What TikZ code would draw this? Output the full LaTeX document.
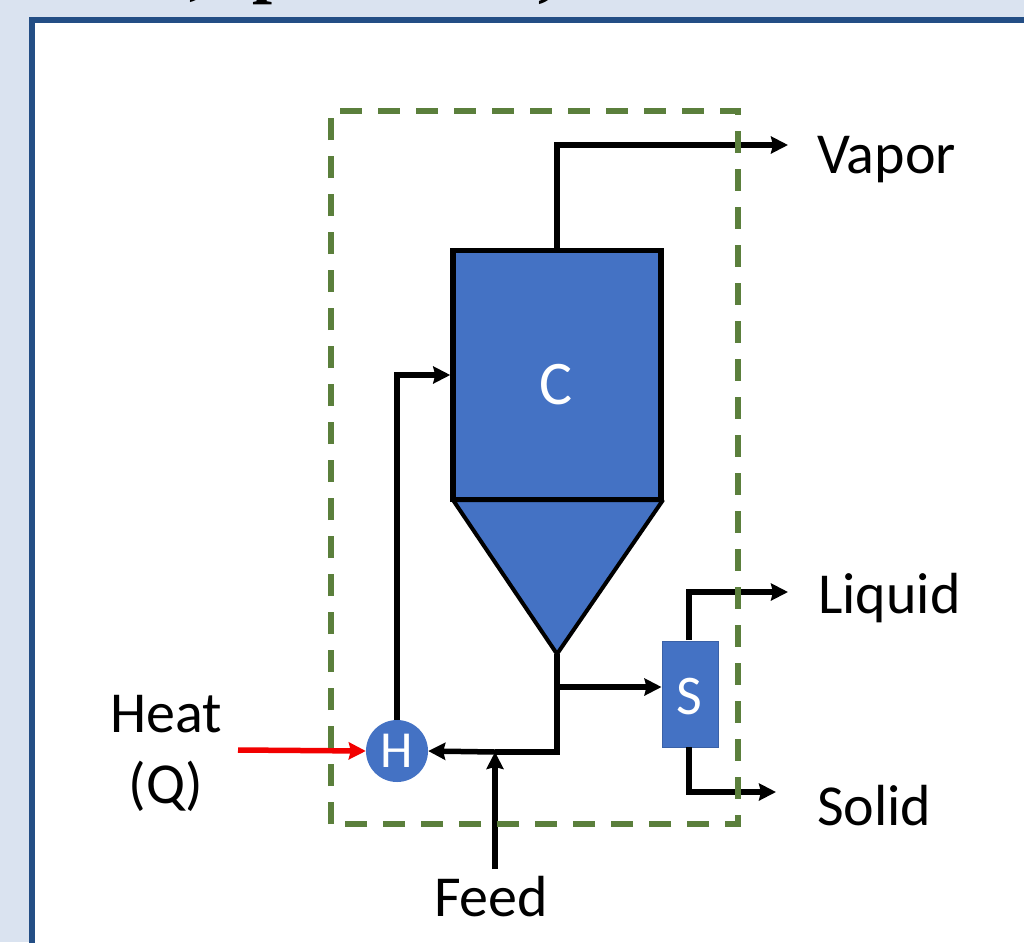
\documentclass[tikz,border=0pt]{standalone}
\usepackage{fontspec}
\setmainfont{Carlito}
\newfontfamily\titlefont{Liberation Serif}
\usetikzlibrary{positioning,arrows.meta}
\definecolor{panelblue}{HTML}{DAE3F0}
\definecolor{framedark}{HTML}{234E85}
\definecolor{unitblue}{HTML}{4472C4}
\definecolor{boundgreen}{HTML}{5B7F3C}
\tikzset{
  x=1pt, y=-1pt,
  >={Stealth[length=17pt,width=17pt,inset=2pt]},
  stream/.style={draw=black, line width=5.5pt, ->},
  unit/.style={fill=unitblue, text=white, font=\fontsize{52}{52}\selectfont, inner sep=0pt},
  unitlabel/.style={text=white, inner sep=0pt},
  streamlabel/.style={text=black, font=\fontsize{58}{71}\selectfont, inner sep=0pt},
  cuttext/.style={font=\titlefont\bfseries\fontsize{72}{72}\selectfont, inner sep=0pt, anchor=base},
  boundary/.style={draw=boundgreen, line width=5.5pt, dash pattern=on 22pt off 16pt}
}
\begin{document}
\begin{tikzpicture}
  \useasboundingbox (0,0) rectangle (1024,942);
  \fill[panelblue] (0,0) rectangle (1024,942);
  \begin{scope}
    \clip (0,0) rectangle (1024,14);
    \node[cuttext] (cutp) at (273,-10) {p};
    \node[cuttext] (cutcommaa) at (198,-8) {,};
    \node[cuttext] (cutcommab) at (547,-6) {,};
  \end{scope}
  \draw[framedark, line width=5.5pt, fill=white] (32,20) -- (1030,20) -- (1030,950) -- (32,950) -- cycle;

  % column and cone
  \path[fill=unitblue, draw=black, line width=4pt, line join=bevel] (453,500) -- (663,500) -- (557,654) -- cycle;
  \node[unit, draw=black, line width=5.5pt, minimum width=208pt, minimum height=249pt] (col) at (557,375) {};
  \node[unitlabel, font=\fontsize{62}{62}\selectfont] (collabel) at (556,385) {C};
  \coordinate (tip) at (557,654);

  \node[unit, circle, minimum size=62pt] (htr) at (397,751) {H};
  \node[unit, draw=unitblue!85!black, line width=1pt, minimum width=56pt, minimum height=106pt] (sep) at (690,694) {};
  \node[unitlabel, font=\fontsize{56}{56}\selectfont] (seplabel) at (689,697) {S};

  % stream labels
  \node[streamlabel, anchor=west] (vapor) at (817,160) {Vapor};
  \node[streamlabel, anchor=west] (liquid) at (818,598) {Liquid};
  \node[streamlabel, anchor=west] (solid) at (817,806) {Solid};
  \node[streamlabel, align=center] (heat) at (166,753) {Heat\\(Q)};
  \node[streamlabel] (feed) at (491,897) {Feed};

  \coordinate (vaporend) at (788,145);
  \coordinate (liquidend) at (788,592);
  \coordinate (solidend) at (776,792);
  \coordinate (heatstart) at (238,750);
  \coordinate (feedstart) at (495,869);
  \coordinate (feedjoin) at (495,752);
  \coordinate (branch) at (557,687);

  \draw[stream] (col.north) -- (col.north |- vaporend) -- (vaporend);
  \draw[stream] (htr.north) |- (col.west);
  \draw[stream, -] (tip) -- (557,752) -- (feedjoin);
  \draw[stream] (feedjoin) -- (htr.east);
  \draw[stream] (branch) -- (branch -| sep.west);
  \draw[stream] (689,640) -- (689,592) -- (liquidend);
  \draw[stream] (689,747) -- (689,792) -- (solidend);
  \draw[stream] (feedstart) -- (feedjoin);
  \draw[stream, red!95!black] (heatstart) -- (htr.west);

  \draw[boundary] (331,824) -- (331,111) -- (738,111) -- (738,824) -- cycle;
\end{tikzpicture}
\end{document}
